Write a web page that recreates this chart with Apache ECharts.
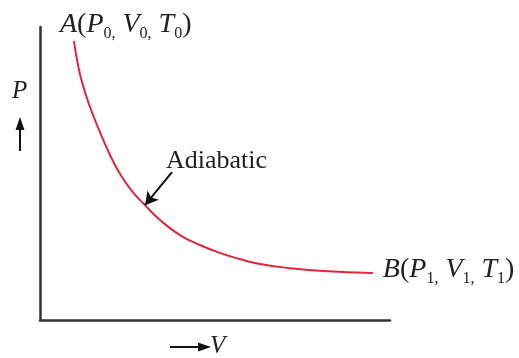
<!DOCTYPE html>
<html>
<head>
<meta charset="utf-8">
<title>Adiabatic</title>
<script src="https://cdn.jsdelivr.net/npm/echarts@6/dist/echarts.min.js"></script>
<style>
    html, body { margin: 0; padding: 0; background: #fff; }
    #chart { width: 519px; height: 358px; }
</style>
</head>
<body>
<div id="chart"></div>
<script>
    // curve (arbitrary units, 0..100 on both axes)
    const volume = [9.7, 10.6, 12.0, 14.3, 16.9, 20.0, 22.9, 26.3, 30.0, 34.3, 40.0, 45.7, 51.4, 57.1, 62.9, 71.4, 80.9, 95.1]
    const pressure = [95.2, 88.7, 81.2, 72.7, 64.8, 56.3, 49.8, 44.0, 39.2, 34.1, 29.0, 25.6, 22.9, 20.8, 19.1, 17.7, 16.7, 16.0]
    const pointerFrom = [37.7, 50.5]
    const pointerTo = 8 // index of the curve point the arrow touches

    const serif = '"Liberation Serif", "DejaVu Serif", serif'
    const rich = {
        i: { fontFamily: serif, fontStyle: 'italic', fontSize: 28, lineHeight: 34, color: '#222' },
        n: { fontFamily: serif, fontSize: 28, lineHeight: 34, color: '#222' },
        s: { fontFamily: serif, fontSize: 16, lineHeight: 16, verticalAlign: 'bottom', color: '#222' }
    }
    const stateLabel = (name, k) =>
        `{i|${name}}{n|(}{i|P}{s|${k},}{n| }{i|V}{s|${k},}{n| }{i|T}{s|${k}}{n|)}`

    const last = volume.length - 1
    const data = volume.map((v, i) => {
        const item = { value: [v, pressure[i]] }
        if (i === 0) {
            item.label = { show: true, formatter: stateLabel('A', 0), rich, position: [-14, -16], align: 'left', verticalAlign: 'middle' }
        } else if (i === last) {
            item.label = { show: true, formatter: stateLabel('B', 1), rich, position: 'right', distance: 10, offset: [0, -3] }
        }
        return item
    })

    const chart = echarts.init(document.getElementById('chart'), null, { renderer: 'canvas' })
    const axisLine = { show: true, lineStyle: { color: '#333', width: 2.5 } }

    chart.setOption({
        animation: false,
        grid: { left: 40, right: 129, top: 27, bottom: 38 },
        xAxis: {
            type: 'value', min: 0, max: 100,
            axisLine, axisTick: { show: false }, axisLabel: { show: false }, splitLine: { show: false }
        },
        yAxis: {
            type: 'value', min: 0, max: 100,
            axisLine, axisTick: { show: false }, axisLabel: { show: false }, splitLine: { show: false }
        },
        series: [{
            type: 'line',
            data,
            smooth: 0.5,
            showSymbol: true,
            symbolSize: 0,
            clip: false,
            lineStyle: { color: '#e3263a', width: 2 },
            itemStyle: { color: '#e3263a' },
            label: { show: false },
            markLine: {
                silent: true,
                symbol: ['none', 'arrow'],
                symbolSize: [11, 13],
                label: { show: false },
                lineStyle: { color: '#111', width: 2, type: 'solid' },
                data: [[
                    { coord: pointerFrom },
                    { coord: [volume[pointerTo], pressure[pointerTo]] }
                ]]
            }
        }],
        graphic: [
            {
                type: 'text', left: 166, top: 148,
                style: { text: 'Adiabatic', fontFamily: serif, fontSize: 26, fill: '#222' }
            },
            {
                type: 'text', left: 12, top: 79,
                style: { text: 'P', fontFamily: serif, fontStyle: 'italic', fontSize: 25, fill: '#222' }
            },
            {
                type: 'line', shape: { x1: 20, y1: 151, x2: 20, y2: 126 },
                style: { stroke: '#111', lineWidth: 2 }
            },
            {
                type: 'polygon', shape: { points: [[20, 117], [15.5, 130], [24.5, 130]] },
                style: { fill: '#111' }
            },
            {
                type: 'line', shape: { x1: 170, y1: 347, x2: 202, y2: 347 },
                style: { stroke: '#111', lineWidth: 2 }
            },
            {
                type: 'polygon', shape: { points: [[211, 347], [198, 342.5], [198, 351.5]] },
                style: { fill: '#111' }
            },
            {
                type: 'text', left: 210, top: 334,
                style: { text: 'V', fontFamily: serif, fontStyle: 'italic', fontSize: 25, fill: '#222' }
            }
        ]
    })
</script>
</body>
</html>
